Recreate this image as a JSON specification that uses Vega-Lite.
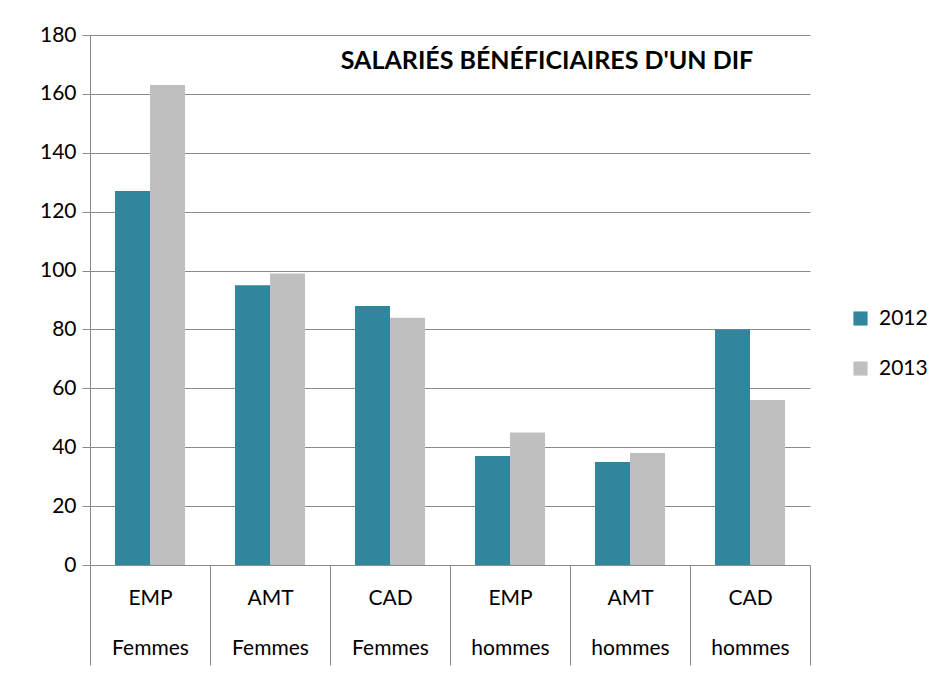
{
  "$schema": "https://vega.github.io/schema/vega-lite/v6.json",
  "autosize": "none",
  "width": 720,
  "height": 530,
  "padding": {"left": 90, "top": 35, "right": 137, "bottom": 112},
  "background": "white",
  "title": {
    "text": "SALARIÉS BÉNÉFICIAIRES D'UN DIF",
    "frame": "group",
    "anchor": "middle",
    "dx": 97,
    "offset": -50,
    "font": "Lato",
    "fontSize": 25,
    "fontWeight": "bold",
    "color": "black"
  },
  "data": {
    "values": [
      {"cat": "EMP|Femmes", "year": "2012", "value": 127},
      {"cat": "EMP|Femmes", "year": "2013", "value": 163},
      {"cat": "AMT|Femmes", "year": "2012", "value": 95},
      {"cat": "AMT|Femmes", "year": "2013", "value": 99},
      {"cat": "CAD|Femmes", "year": "2012", "value": 88},
      {"cat": "CAD|Femmes", "year": "2013", "value": 84},
      {"cat": "EMP|hommes", "year": "2012", "value": 37},
      {"cat": "EMP|hommes", "year": "2013", "value": 45},
      {"cat": "AMT|hommes", "year": "2012", "value": 35},
      {"cat": "AMT|hommes", "year": "2013", "value": 38},
      {"cat": "CAD|hommes", "year": "2012", "value": 80},
      {"cat": "CAD|hommes", "year": "2013", "value": 56}
    ]
  },
  "mark": {"type": "bar"},
  "encoding": {
    "x": {
      "field": "cat",
      "type": "nominal",
      "sort": null,
      "scale": {"paddingInner": 0, "paddingOuter": 0},
      "axis": {
        "title": null,
        "labelAngle": 0,
        "labelExpr": "split(datum.label, '|')",
        "labelLineHeight": 50,
        "labelBaseline": "top",
        "labelPadding": -78,
        "tickBand": "extent",
        "tickSize": 100,
        "tickColor": "#8a8a8a",
        "domainColor": "#8a8a8a",
        "labelFont": "Lato",
        "labelFontSize": 21,
        "labelColor": "black",
        "grid": false
      }
    },
    "xOffset": {"field": "year", "type": "nominal", "scale": {"paddingInner": 0, "paddingOuter": 0.714}},
    "y": {
      "field": "value",
      "type": "quantitative",
      "scale": {"domain": [0, 180], "nice": false},
      "axis": {
        "title": null,
        "values": [0, 20, 40, 60, 80, 100, 120, 140, 160, 180],
        "tickSize": 8,
        "labelPadding": 6,
        "tickColor": "#8a8a8a",
        "domainColor": "#8a8a8a",
        "gridColor": "#8a8a8a",
        "grid": true,
        "labelFont": "Lato",
        "labelFontSize": 21,
        "labelColor": "black"
      }
    },
    "color": {
      "field": "year",
      "type": "nominal",
      "scale": {"domain": ["2012", "2013"], "range": ["#31859C", "#BFBFBF"]},
      "legend": {
        "title": null,
        "orient": "none",
        "legendX": 760,
        "legendY": 273,
        "symbolType": "square",
        "symbolSize": 200,
        "symbolStrokeWidth": 0,
        "labelFont": "Lato",
        "labelFontSize": 21,
        "labelColor": "black",
        "rowPadding": 28,
        "labelOffset": 8
      }
    }
  },
  "config": {"view": {"stroke": null}}
}
